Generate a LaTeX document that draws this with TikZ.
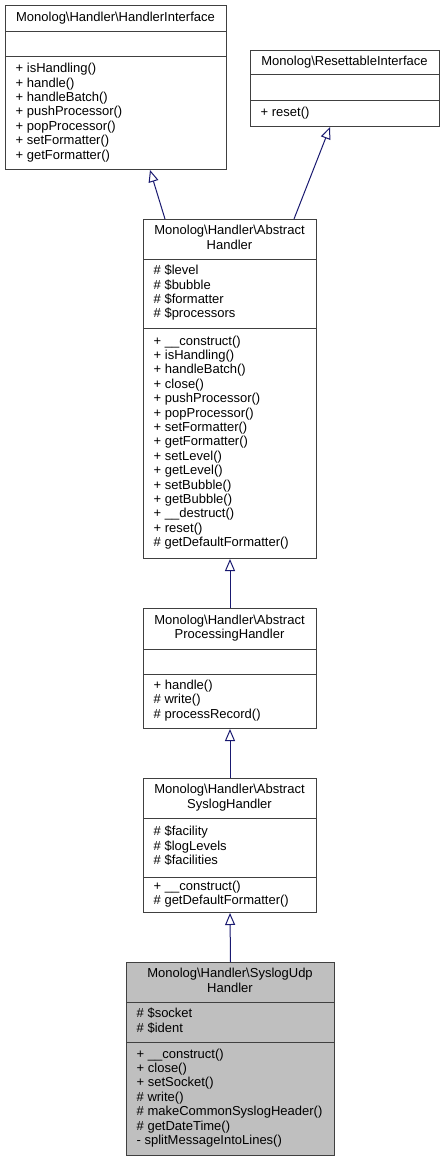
\documentclass[tikz,border=0pt]{standalone}
\usepackage{fontspec}
\setmainfont{Liberation Sans}
\usetikzlibrary{arrows.meta}
\definecolor{edgeblue}{RGB}{25,25,112}
\definecolor{boxline}{RGB}{64,64,64}
\definecolor{hilite}{RGB}{191,191,191}
\begin{document}
\begin{tikzpicture}[x=1pt,y=-1pt,
  classbox/.style={draw=boxline, line width=1pt, inner sep=0pt, anchor=north west},
  sepline/.style={draw=boxline, line width=1pt},
  txt/.style={inner sep=0pt, font=\fontsize{13}{14.4}\selectfont, text=black},
  title/.style={txt, align=center, anchor=center},
  members/.style={txt, align=left, anchor=west},
  inherit/.style={draw=edgeblue, line width=1pt, -{Triangle[open, length=12pt, width=10pt]}}
]
\path[use as bounding box, fill=white] (0,0) rectangle (445,1161);

% HandlerInterface
\node[classbox, minimum width=221pt, minimum height=164pt] (hi) at (5,5) {};
\draw[sepline] (5,31.5) -- (226,31.5);
\draw[sepline] (5,57) -- (226,57);
\node[title] (hit) at (115.5,18.25) {\strut Monolog\textbackslash Handler\textbackslash HandlerInterface};
\node[members] (him) at (15.5,113) {\strut + isHandling()\\\strut + handle()\\\strut + handleBatch()\\\strut + pushProcessor()\\\strut + popProcessor()\\\strut + setFormatter()\\\strut + getFormatter()};

% ResettableInterface
\node[classbox, minimum width=189pt, minimum height=76pt] (ri) at (250,50) {};
\draw[sepline] (250,75) -- (439,75);
\draw[sepline] (250,101) -- (439,101);
\node[title] (rit) at (344.5,62.5) {\strut Monolog\textbackslash ResettableInterface};
\node[members] (rim) at (260.5,113.5) {\strut + reset()};

% AbstractHandler
\node[classbox, minimum width=173pt, minimum height=339pt] (ah) at (143,219) {};
\draw[sepline] (143,259) -- (316,259);
\draw[sepline] (143,328) -- (316,328);
\node[title] (aht) at (229.5,239) {\strut Monolog\textbackslash Handler\textbackslash Abstract\\\strut Handler};
\node[members] (aha) at (153.5,293.5) {\strut \# \$level\\\strut \# \$bubble\\\strut \# \$formatter\\\strut \# \$processors};
\node[members] (ahm) at (153.5,443) {\strut + \_\_construct()\\\strut + isHandling()\\\strut + handleBatch()\\\strut + close()\\\strut + pushProcessor()\\\strut + popProcessor()\\\strut + setFormatter()\\\strut + getFormatter()\\\strut + setLevel()\\\strut + getLevel()\\\strut + setBubble()\\\strut + getBubble()\\\strut + \_\_destruct()\\\strut + reset()\\\strut \# getDefaultFormatter()};

% AbstractProcessingHandler
\node[classbox, minimum width=173pt, minimum height=120pt] (aph) at (143,608) {};
\draw[sepline] (143,649) -- (316,649);
\draw[sepline] (143,674) -- (316,674);
\node[title] (apht) at (229.5,628.5) {\strut Monolog\textbackslash Handler\textbackslash Abstract\\\strut ProcessingHandler};
\node[members] (aphm) at (153.5,701) {\strut + handle()\\\strut \# write()\\\strut \# processRecord()};

% AbstractSyslogHandler
\node[classbox, minimum width=173pt, minimum height=134pt] (ash) at (143,778) {};
\draw[sepline] (143,818) -- (316,818);
\draw[sepline] (143,877) -- (316,877);
\node[title] (asht) at (229.5,798) {\strut Monolog\textbackslash Handler\textbackslash Abstract\\\strut SyslogHandler};
\node[members] (asha) at (153.5,847.5) {\strut \# \$facility\\\strut \# \$logLevels\\\strut \# \$facilities};
\node[members] (ashm) at (153.5,894.5) {\strut + \_\_construct()\\\strut \# getDefaultFormatter()};

% SyslogUdpHandler
\node[classbox, fill=hilite, minimum width=208pt, minimum height=193pt] (suh) at (126,962) {};
\draw[sepline] (126,1002) -- (334,1002);
\draw[sepline] (126,1042) -- (334,1042);
\node[title] (suht) at (230,982) {\strut Monolog\textbackslash Handler\textbackslash SyslogUdp\\\strut Handler};
\node[members] (suha) at (136.5,1022) {\strut \# \$socket\\\strut \# \$ident};
\node[members] (suhm) at (136.5,1098.5) {\strut + \_\_construct()\\\strut + close()\\\strut + setSocket()\\\strut \# write()\\\strut \# makeCommonSyslogHeader()\\\strut \# getDateTime()\\\strut - splitMessageIntoLines()};

% inheritance
\draw[inherit] ([xshift=22pt]ah.north west) -- ([xshift=145pt]hi.south west);
\draw[inherit] ([xshift=151pt]ah.north west) -- ([xshift=80pt]ri.south west);
\draw[inherit] (aph.north) -- (ah.south);
\draw[inherit] (ash.north) -- (aph.south);
\draw[inherit] (suh.north) -- (ash.south);
\end{tikzpicture}
\end{document}
